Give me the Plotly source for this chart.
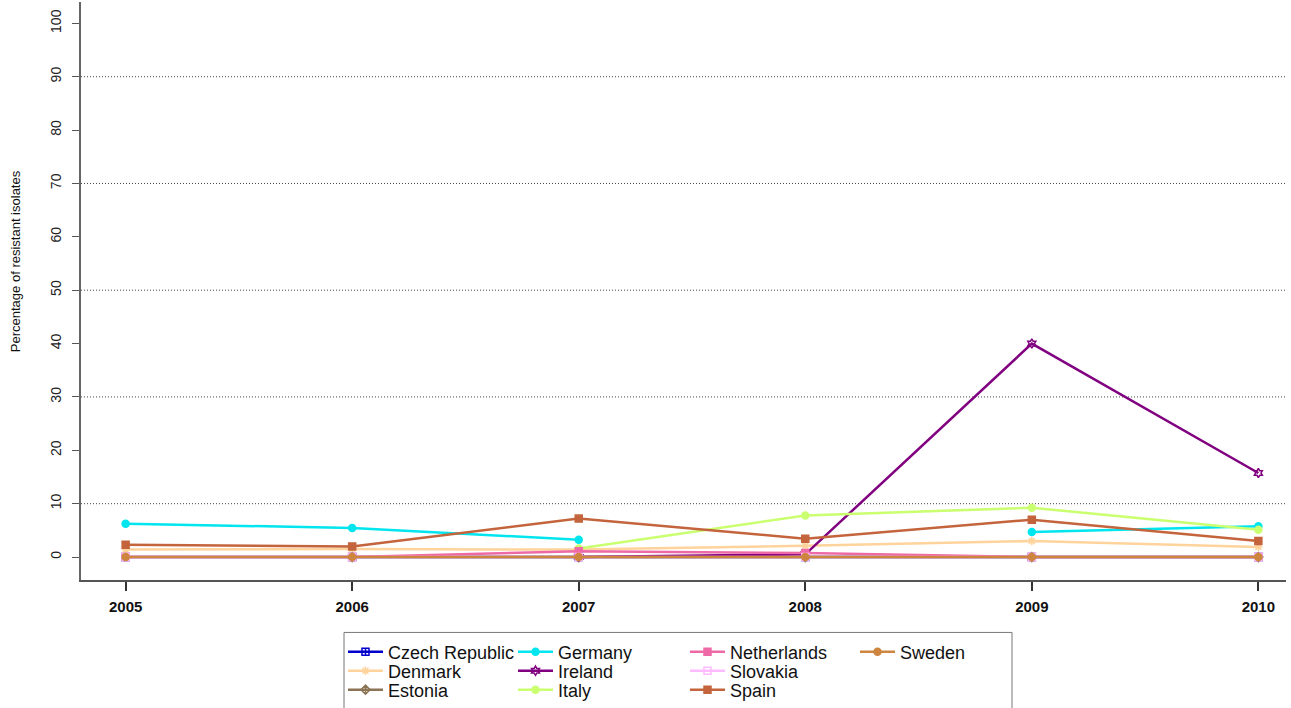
import plotly.graph_objects as go

# Years and resistance percentages per country (None = no data)
years = [2005, 2006, 2007, 2008, 2009, 2010]

czech_republic = [0, 0, 0, 0, 0, 0]
denmark = [1.4, 1.5, 1.4, 2.1, 3.0, 1.9]
estonia = [None, 0, 0, 0, 0, 0]
germany = [6.25, 5.45, 3.25, None, 4.7, 5.75]
ireland = [None, None, 0, 0.5, 40.0, 15.75]
italy = [None, None, 1.6, 7.8, 9.25, 5.1]
netherlands = [0, 0, 1.1, 0.75, 0, 0]
slovakia = [0, 0, 0, 0, 0, 0]
spain = [2.3, 2.0, 7.2, 3.45, 7.0, 3.0]
sweden = [0, 0, 0, 0, 0, 0]

y_ticks = list(range(0, 101, 10))
grid_levels = [10, 30, 50, 70, 90]

# name, values, colour, marker symbol, legend column, legend row
series = [
    ("Czech Republic", czech_republic, "#0000CD", "square-cross-open", 0, 0),
    ("Denmark", denmark, "#FFD39B", "asterisk-open", 0, 1),
    ("Estonia", estonia, "#8B7355", "diamond-cross-open", 0, 2),
    ("Germany", germany, "#00E5EE", "circle", 1, 0),
    ("Ireland", ireland, "#800080", "hexagram-open", 1, 1),
    ("Italy", italy, "#CAFF70", "circle", 1, 2),
    ("Netherlands", netherlands, "#EE6AA7", "square", 2, 0),
    ("Slovakia", slovakia, "#FFBBFF", "square-open", 2, 1),
    ("Spain", spain, "#C4643C", "square", 2, 2),
    ("Sweden", sweden, "#CD853F", "circle", 3, 0),
]

W, H = 1291, 708
# plot area in pixels
PL, PR, PT, PB = 81, 1286, 2, 579.6
FONT = "Liberation Sans, Arial, sans-serif"

col_px = [348, 518, 690, 860]
row_px = [652, 671, 690]

fig = go.Figure()
layout_legends = {}
for i, (name, vals, color, sym, col, row) in enumerate(series):
    key = "legend" if i == 0 else f"legend{i + 1}"
    fig.add_trace(go.Scatter(
        x=years, y=vals, name=name, mode="lines+markers",
        line=dict(color=color, width=2.5),
        marker=dict(symbol=sym, size=7, color=color,
                    line=dict(color=color, width=1.5)),
        connectgaps=False,
        legend=key,
    ))
    layout_legends[key] = dict(
        x=(col_px[col] - 5) / W, y=1 - row_px[row] / H,
        xref="container", yref="container",
        xanchor="left", yanchor="middle",
        bgcolor="rgba(0,0,0,0)", borderwidth=0,
        itemwidth=35,
        font=dict(family=FONT, size=18, color="#111"),
    )

# dotted reference lines
for g in grid_levels:
    fig.add_shape(type="line", xref="paper", yref="y", x0=0, x1=1, y0=g, y1=g,
                  line=dict(color="#444", width=1, dash="1px,2px"), layer="below")

# legend frame
def px_to_paper(px, py):
    return (px - PL) / (PR - PL), (PB - py) / (PB - PT)

fx0, fy0 = px_to_paper(344, 632)
fx1, fy1 = px_to_paper(1012, 715)
fig.add_shape(type="rect", xref="paper", yref="paper", x0=fx0, x1=fx1, y0=fy1, y1=fy0,
              line=dict(color="#777", width=1), fillcolor="rgba(0,0,0,0)")

fig.add_annotation(text="Percentage of resistant isolates", textangle=-90,
                   xref="paper", yref="paper",
                   x=px_to_paper(15, 0)[0], y=px_to_paper(0, 261)[1],
                   xanchor="center", yanchor="middle", showarrow=False,
                   font=dict(family=FONT, size=13, color="#111"))

fig.update_layout(
    width=W, height=H,
    margin=dict(l=PL, r=W - PR, t=PT, b=H - PB, autoexpand=False),
    paper_bgcolor="white", plot_bgcolor="white",
    font=dict(family=FONT, color="#111"),
    showlegend=True,
    **layout_legends,
)

fig.update_xaxes(
    range=[2004.803, 2010.122], tickvals=years, ticktext=[str(y) for y in years],
    showgrid=False, zeroline=False, showline=True, linecolor="#555", linewidth=1.5,
    ticks="outside", ticklen=9, tickwidth=1.5, tickcolor="#333",
    tickfont=dict(family=FONT, size=15, weight="bold", color="#111"),
    ticklabelstandoff=3,
)
fig.update_yaxes(
    range=[-4.3, 104], tickvals=y_ticks, tickangle=-90,
    showgrid=False, zeroline=False, showline=True, linecolor="#666", linewidth=2,
    ticks="outside", ticklen=7, tickwidth=1, tickcolor="#555",
    tickfont=dict(family=FONT, size=14, color="#222"),
    ticklabelstandoff=5,
)

fig.write_html("out.html")
